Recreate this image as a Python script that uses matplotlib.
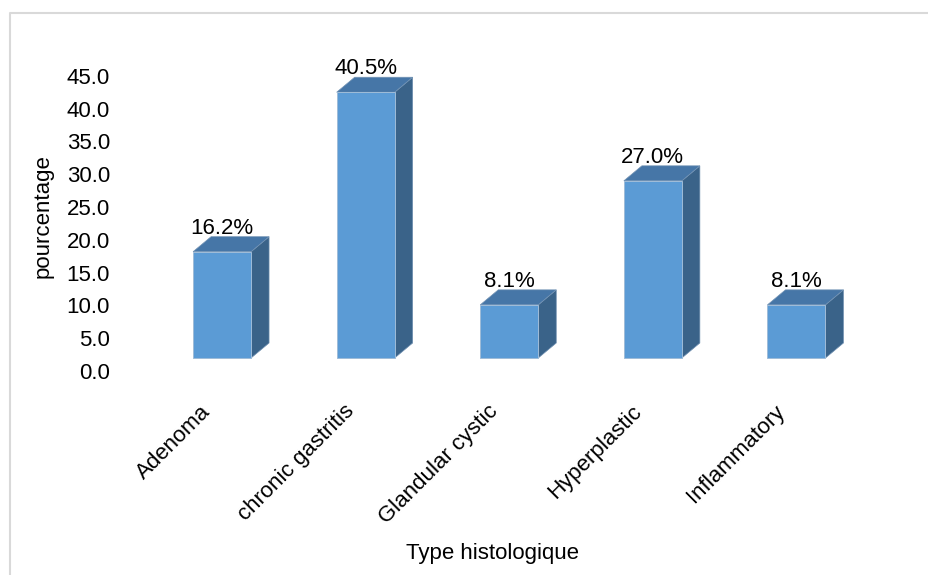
import matplotlib
matplotlib.use("Agg")
import matplotlib.pyplot as plt
from matplotlib.patches import Rectangle, Polygon
from matplotlib.lines import Line2D
from matplotlib.transforms import ScaledTranslation

# Histological types and their share (%)
categories = ["Adenoma", "chronic gastritis", "Glandular cystic", "Hyperplastic", "Inflammatory"]
values = [16.2, 40.5, 8.1, 27.0, 8.1]
y_ticks = [0, 5, 10, 15, 20, 25, 30, 35, 40, 45]

plt.rcParams["font.family"] = ["Liberation Sans", "DejaVu Sans"]
plt.rcParams["font.size"] = 16

W, H, DPI = 929, 575, 100
fig = plt.figure(figsize=(W / DPI, H / DPI), dpi=DPI)

# plot area placed in pixel terms
left_px, right_px = 150.25, 868.25
top_px, bottom_px = 75.7, 371.0
ax = fig.add_axes([left_px / W, 1 - bottom_px / H,
                   (right_px - left_px) / W, (bottom_px - top_px) / H])
ax.set_xlim(-0.5, len(categories) - 0.5)
ax.set_ylim(0, 45)
for s in ax.spines.values():
    s.set_visible(False)
ax.set_xticks([])
ax.set_yticks(y_ticks)
ax.set_yticklabels([f"{t:.1f}" for t in y_ticks])
ax.tick_params(axis="y", length=0, pad=29, labelsize=16)

# 3-D look: bars raised slightly above the floor line, with a depth offset
lift = ScaledTranslation(0, 13 / DPI, fig.dpi_scale_trans)
bar_tr = ax.transData + lift
px_per_x = (right_px - left_px) / (len(categories) - 0.5 - (-0.5))
px_per_y = (bottom_px - top_px) / 45.0
depth_x = 18 / px_per_x
depth_y = 15 / px_per_y
bar_w = 58 / px_per_x

front_c = "#5B9BD5"
top_c = "#4676A7"
side_c = "#3A6389"

for i, v in enumerate(values):
    x0, x1 = i - bar_w / 2, i + bar_w / 2
    side = Polygon([(x1, 0), (x1 + depth_x, depth_y), (x1 + depth_x, v + depth_y), (x1, v)],
                   closed=True, facecolor=side_c, edgecolor="#6f8fb0", linewidth=0.5,
                   transform=bar_tr, clip_on=False)
    top = Polygon([(x0, v), (x1, v), (x1 + depth_x, v + depth_y), (x0 + depth_x, v + depth_y)],
                  closed=True, facecolor=top_c, edgecolor="#7393b4", linewidth=0.5,
                  transform=bar_tr, clip_on=False)
    front = Rectangle((x0, 0), bar_w, v, facecolor=front_c, edgecolor="#9fbcd8",
                      linewidth=0.7, transform=bar_tr, clip_on=False)
    ax.add_patch(side)
    ax.add_patch(top)
    ax.add_patch(front)
    ax.text(i, v + depth_y, f"{v:.1f}%", ha="center", va="baseline", fontsize=16,
            transform=bar_tr + ScaledTranslation(0, 3 / DPI, fig.dpi_scale_trans),
            clip_on=False)

# rotated category labels
lab_tr = ax.get_xaxis_transform() + ScaledTranslation(-22 / DPI, -30 / DPI, fig.dpi_scale_trans)
for i, c in enumerate(categories):
    ax.text(i, 0, c, rotation=45, ha="right", va="top", rotation_mode="anchor",
            fontsize=16, transform=lab_tr, clip_on=False)

fig.text(493 / W, 1 - 553 / H, "Type histologique", ha="center", va="center", fontsize=16)
fig.text(43 / W, 1 - 216 / H, "pourcentage", ha="center", va="center", rotation=90, fontsize=16)

# chart-area border (top and left edges)
fig.add_artist(Line2D([10.5 / W, 10.5 / W, 1], [0, 1 - 12.5 / H, 1 - 12.5 / H],
                      transform=fig.transFigure, color="#d9d9d9", linewidth=1.5))

fig.savefig("out.png", dpi=DPI)
